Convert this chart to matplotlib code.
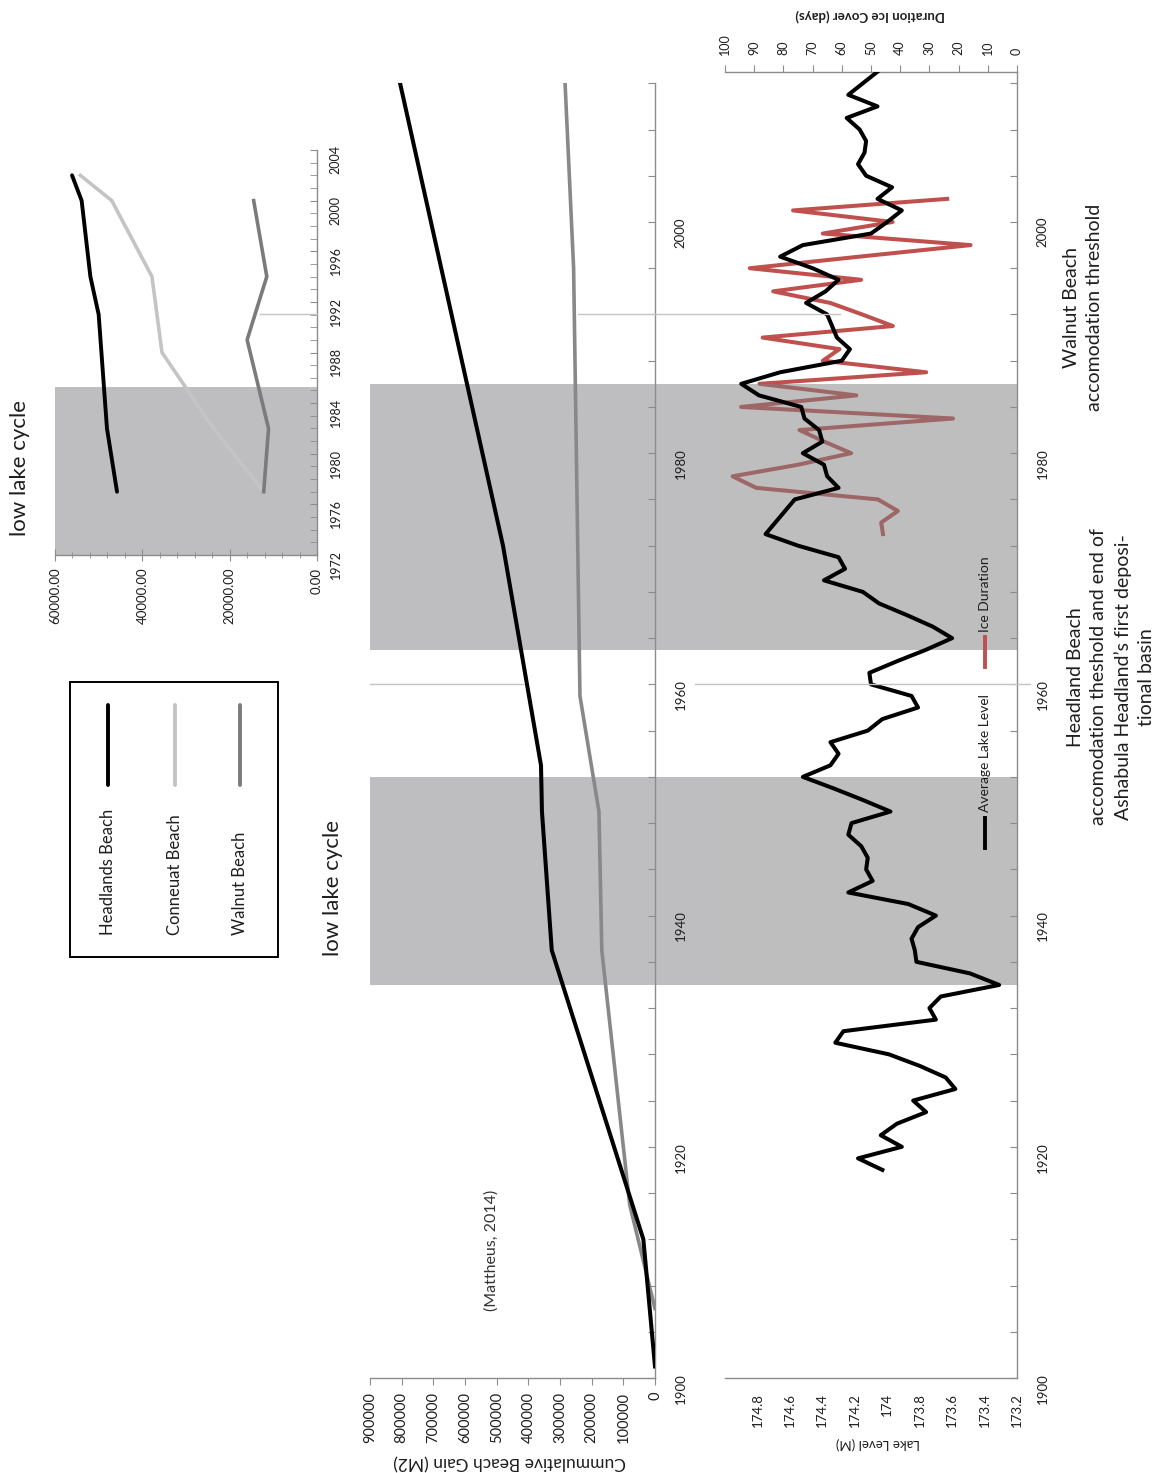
import matplotlib
matplotlib.use('Agg')
import matplotlib.pyplot as plt
import matplotlib.transforms as mtransforms
from matplotlib.lines import Line2D
from matplotlib.patches import Rectangle
from matplotlib.ticker import FuncFormatter, MultipleLocator

plt.rcParams['font.family'] = ['Lato', 'DejaVu Sans']

W, H = 1173, 1473

# --- beach growth inset (recent surveys) ---
headlands_in_years = [1977, 1982, 1991, 1994, 2000, 2002]
headlands_in_area = [45800, 48100, 50000, 51900, 53900, 56100]
conneaut_in_years = [1977, 1982, 1988, 1994, 2000, 2002]
conneaut_in_area = [12200, 23700, 35500, 37800, 47000, 54200]
walnut_in_years = [1977, 1982, 1989, 1994, 2000]
walnut_in_area = [12200, 11100, 16000, 11500, 14500]

# --- cumulative beach gain since 1900 ---
headlands_cum_years = [1901, 1912, 1937, 1949, 1953, 1972, 2012]
headlands_cum_gain = [0, 36800, 326000, 357000, 360000, 480000, 805000]
walnut_cum_years = [1906, 1915, 1937, 1949, 1959, 1996, 2012]
walnut_cum_gain = [0, 80000, 168000, 177000, 237000, 257000, 284000]

# --- lake level (annual mean) and ice cover ---
level_years = list(range(1918, 2014))
lake_level = [
    174.03, 174.18, 173.91, 174.04, 173.94, 173.76, 173.84, 173.58, 173.64, 173.80,  # 1918-27
    173.99, 174.32, 174.27, 173.70, 173.74, 173.67, 173.31, 173.49, 173.82, 173.83,  # 1928-37
    173.85, 173.81, 173.70, 173.87, 174.24, 174.09, 174.13, 174.12, 174.16, 174.24,  # 1938-47
    174.22, 173.98, 174.15, 174.33, 174.52, 174.35, 174.30, 174.35, 174.12, 174.03,  # 1948-57
    173.81, 173.85, 174.10, 174.11, 173.94, 173.76, 173.60, 173.72, 173.88, 174.05,  # 1958-67
    174.15, 174.39, 174.26, 174.30, 174.55, 174.75, 174.69, 174.63, 174.57, 174.30,  # 1968-77
    174.37, 174.39, 174.52, 174.40, 174.42, 174.51, 174.53, 174.79, 174.90, 174.66,  # 1978-87
    174.28, 174.23, 174.31, 174.34, 174.37, 174.50, 174.38, 174.30, 174.46, 174.66,  # 1988-97
    174.52, 174.10, 174.00, 173.91, 174.06, 173.97, 174.13, 174.18, 174.14, 174.13,  # 1998-2007
    174.17, 174.25, 174.06, 174.24, 174.15, 174.06,                                  # 2008-13
]
ice_years = list(range(1973, 2003))
ice_days = [
    45.9, 46.5, 40.8, 47.6, 89.3, 97.4, 75.0, 56.8, 66.0, 74.5,
    21.9, 94.5, 55.0, 88.2, 31.1, 66.5, 60.8, 87.1, 42.5, 53.0,
    64.0, 83.5, 53.4, 91.5, 54.0, 15.9, 66.5, 42.6, 76.7, 23.9,
]

# low lake periods and threshold years
low_cycles = [(1934, 1952), (1963, 1986)]
inset_low_cycle = (1972, 1985.3)
headland_threshold = 1960
walnut_threshold = 1992

level_ticks = [173.2, 173.4, 173.6, 173.8, 174.0, 174.2, 174.4, 174.6, 174.8]

AXIS_GREY = '#8c8c8c'
BAND = '#bebec0'
TXT = '#1e1e1e'


def box(x0, y0, x1, y1):
    # pixel box measured from the top-left corner -> figure fraction rect
    return [x0 / W, 1 - y1 / H, (x1 - x0) / W, (y1 - y0) / H]


def fx(x):
    return x / W


def fy(y):
    return 1 - y / H


def spines(ax, show):
    for side, sp in ax.spines.items():
        sp.set_visible(side in show)
        sp.set_color(AXIS_GREY)
        sp.set_linewidth(1.0)


def year_labels(v, pos):
    v = int(round(v))
    return str(v) if v % 20 == 0 else ''


fig = plt.figure(figsize=(W / 100, H / 100), dpi=100)

# ---------------- inset ----------------
ax_in = fig.add_axes(box(55, 150, 317, 555))
ax_in.axhspan(*inset_low_cycle, color=BAND, lw=0, zorder=0)
ax_in.plot(conneaut_in_area, conneaut_in_years, color='#c4c4c4', lw=2.6, zorder=2)
ax_in.plot(walnut_in_area, walnut_in_years, color='#7b7b7b', lw=2.6, zorder=2)
ax_in.plot(headlands_in_area, headlands_in_years, color='black', lw=2.8, zorder=3,
           solid_capstyle='round')
ax_in.set_xlim(60000, 0)
ax_in.set_ylim(1972, 2004)
spines(ax_in, ['right', 'bottom'])
ax_in.yaxis.tick_right()
ax_in.set_yticks(range(1972, 2005, 4))
ax_in.yaxis.set_minor_locator(MultipleLocator(1))
ax_in.tick_params(axis='y', which='both', direction='in', length=5, color=AXIS_GREY,
                  labelrotation=90, labelsize=9, labelcolor=TXT, pad=9)
ax_in.set_xticks([0, 20000, 40000, 60000])
ax_in.xaxis.set_minor_locator(MultipleLocator(4000))
ax_in.xaxis.set_major_formatter(FuncFormatter(lambda v, p: f'{v:.2f}'))
ax_in.tick_params(axis='x', which='major', direction='inout', length=8, color=AXIS_GREY,
                  labelrotation=90, labelsize=9.5, labelcolor=TXT, pad=5)
ax_in.tick_params(axis='x', which='minor', direction='inout', length=5, color=AXIS_GREY)

# ---------------- cumulative gain ----------------
ax_mid = fig.add_axes(box(370, 83.3, 655, 1378))
ax_mid.patch.set_visible(False)
ax_mid.plot(walnut_cum_gain, walnut_cum_years, color='#888888', lw=2.6, zorder=2)
ax_mid.plot(headlands_cum_gain, headlands_cum_years, color='black', lw=2.9, zorder=3)
ax_mid.set_xlim(900000, 0)
ax_mid.set_ylim(1900, 2012)
spines(ax_mid, ['right', 'bottom'])
ax_mid.yaxis.tick_right()
ax_mid.set_yticks(range(1900, 2013, 4))
ax_mid.yaxis.set_major_formatter(FuncFormatter(year_labels))
ax_mid.tick_params(axis='y', direction='in', length=5, color=AXIS_GREY,
                   labelrotation=90, labelsize=9.5, labelcolor=TXT, pad=14)
ax_mid.set_xticks(range(0, 900001, 100000))
ax_mid.tick_params(axis='x', direction='out', length=5, color=AXIS_GREY,
                   labelrotation=90, labelsize=10.5, labelcolor=TXT, pad=5)

# shaded low-lake periods run across the gain chart and the label gap
band_tr = mtransforms.blended_transform_factory(fig.transFigure, ax_mid.transData)
for y0, y1 in low_cycles:
    fig.add_artist(Rectangle((fx(370), y0), fx(725) - fx(370), y1 - y0,
                             transform=band_tr, color=BAND, lw=0, zorder=-1))

# ---------------- lake level / ice cover ----------------
ax_low = fig.add_axes(box(725, 71.7, 1017, 1378))
ax_dur = ax_low.twiny()
ax_low.set_zorder(2)
ax_dur.set_zorder(1)
ax_low.patch.set_visible(False)

ax_dur.plot(ice_days, ice_years, color='#c0504d', lw=2.9, zorder=2)
for y0, y1 in low_cycles:
    ax_dur.axhspan(y0, y1, color='#7e7e81', alpha=0.5, lw=0, zorder=3)
ax_low.plot(lake_level, level_years, color='black', lw=2.9, zorder=3)

ax_low.set_xlim(175.0, 173.2)
ax_low.set_ylim(1900, 2013)
ax_dur.set_xlim(100, 0)
spines(ax_low, ['right', 'bottom'])
spines(ax_dur, ['top'])
ax_low.yaxis.tick_right()
ax_low.set_yticks(range(1900, 2013, 4))
ax_low.yaxis.set_major_formatter(FuncFormatter(year_labels))
ax_low.tick_params(axis='y', direction='in', length=5, color=AXIS_GREY,
                   labelrotation=90, labelsize=9.5, labelcolor=TXT, pad=14)
ax_low.set_xticks(level_ticks)
ax_low.xaxis.set_major_formatter(FuncFormatter(lambda v, p: f'{round(v, 1):g}'))
ax_low.tick_params(axis='x', length=0, labelrotation=90, labelsize=9.5,
                   labelcolor=TXT, pad=11)
ax_dur.set_xticks(range(0, 101, 10))
ax_dur.tick_params(axis='x', direction='out', length=5, color=AXIS_GREY,
                   labelrotation=90, labelsize=9, labelcolor=TXT, pad=7)

# threshold markers
thr_tr = mtransforms.blended_transform_factory(fig.transFigure, ax_mid.transData)
for xa, xb in [(370, 523), (695, 1030)]:
    fig.add_artist(Line2D([fx(xa), fx(xb)], [headland_threshold] * 2, transform=thr_tr,
                          color='#c4c4c4', lw=1.0, zorder=5))
for xa, xb in [(260, 317), (578, 840)]:
    fig.add_artist(Line2D([fx(xa), fx(xb)], [walnut_threshold] * 2, transform=thr_tr,
                          color='#c4c4c4', lw=1.0, zorder=5))

# axis titles (upside down once the chart is turned)
fig.text(fx(510), fy(1462), 'Cummulative Beach Gain (M2)', rotation=180,
         ha='center', va='center', fontsize=12.5, color=TXT)
fig.text(fx(878), fy(1443), 'Lake Level (M)', rotation=180,
         ha='center', va='center', fontsize=9.5, color=TXT)
fig.text(fx(870), fy(15), 'Duration Ice Cover (days)', rotation=180,
         ha='center', va='center', fontsize=9.5, fontweight='bold', color=TXT)

# labels on the charts
fig.text(fx(20), fy(468), 'low lake cycle', rotation=90, ha='center', va='center',
         fontsize=16, color=TXT)
fig.text(fx(333), fy(888), 'low lake cycle', rotation=90, ha='center', va='center',
         fontsize=16, color=TXT)
fig.text(fx(492), fy(1250), '(Mattheus, 2014)', rotation=90, ha='center', va='center',
         fontsize=11.5, color='#333333')

fig.text(fx(1111), fy(677),
         'Headland Beach\naccomodation theshold and end of\n'
         'Ashabula Headland\u2019s first deposi-\ntional basin',
         rotation=90, ha='center', va='center', multialignment='center',
         linespacing=1.45, fontsize=14, color=TXT)
fig.text(fx(1083), fy(307), 'Walnut Beach\naccomodation threshold',
         rotation=90, ha='center', va='center', multialignment='center',
         linespacing=1.45, fontsize=14, color=TXT)

# beach legend
fig.add_artist(Rectangle((fx(70), fy(957)), fx(278) - fx(70), fy(682) - fy(957),
                         transform=fig.transFigure, fill=False, edgecolor='black',
                         lw=1.4, zorder=4))
beach_keys = [('Headlands Beach', 'black', 108),
              ('Conneuat Beach', '#c4c4c4', 175),
              ('Walnut Beach', '#7b7b7b', 240)]
for name, col, x in beach_keys:
    fig.add_artist(Line2D([fx(x), fx(x)], [fy(785), fy(705)], transform=fig.transFigure,
                          color=col, lw=2.8, solid_capstyle='round', zorder=4))
    fig.text(fx(x), fy(935), name, rotation=90, rotation_mode='anchor',
             ha='left', va='center', fontsize=12, color=TXT)

# lake legend
lake_keys = [('Average Lake Level', 'black', 848, 818, 812),
             ('Ice Duration', '#c0504d', 667, 637, 632)]
for name, col, ya, yb, yt in lake_keys:
    fig.add_artist(Line2D([fx(985), fx(985)], [fy(ya), fy(yb)], transform=fig.transFigure,
                          color=col, lw=2.8, zorder=6))
    fig.text(fx(985), fy(yt), name, rotation=90, rotation_mode='anchor',
             ha='left', va='center', fontsize=10, color=TXT, zorder=6)

fig.savefig('out.png', dpi=100, facecolor='white')
